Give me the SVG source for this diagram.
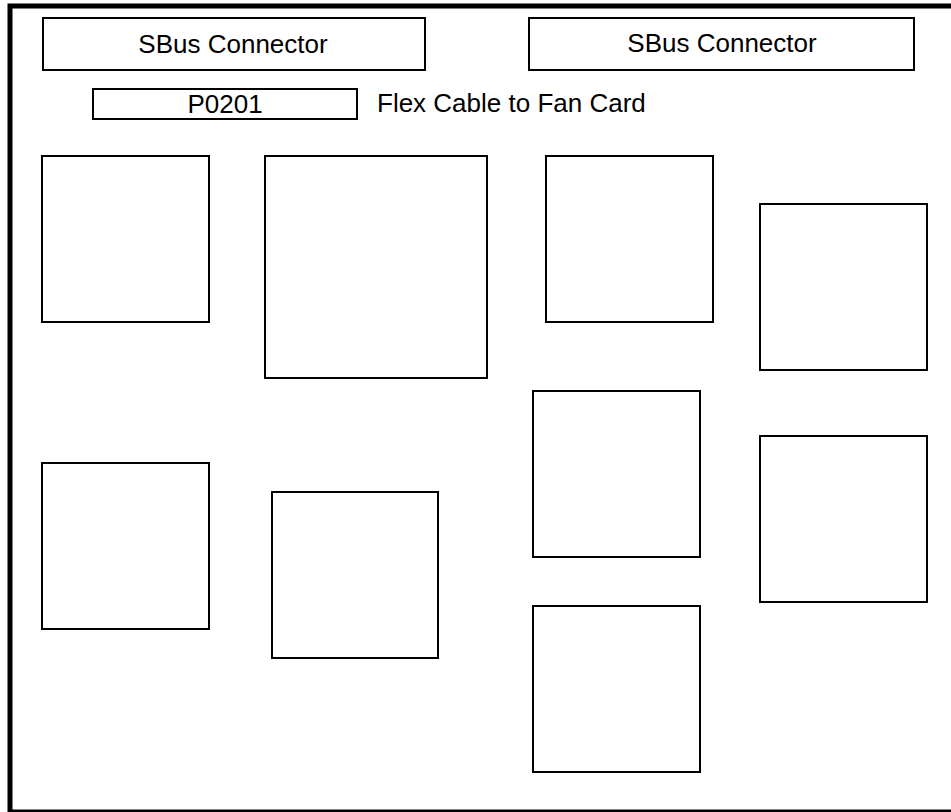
<svg xmlns="http://www.w3.org/2000/svg" width="951" height="812" viewBox="0 0 951 812">
<style>
.b{fill:none;stroke:#000;stroke-width:2}
.t{font-family:"Liberation Sans",Arial,sans-serif;font-size:26px;fill:#000}
</style>
<rect x="0" y="0" width="951" height="812" fill="#fff"/>
<rect id="frame" x="10" y="6" width="960" height="806" fill="none" stroke="#000" stroke-width="5"/>
<g id="sbus1"><rect class="b" x="43" y="18" width="382" height="52"/><text class="t" x="233" y="53" text-anchor="middle">SBus Connector</text></g>
<g id="sbus2"><rect class="b" x="529" y="18" width="385" height="52"/><text class="t" x="722" y="52" text-anchor="middle">SBus Connector</text></g>
<g id="p0201"><rect class="b" x="93" y="89" width="264" height="30"/><text class="t" x="225" y="113" text-anchor="middle">P0201</text></g>
<g id="flexlabel"><text class="t" x="377" y="112">Flex Cable to Fan Card</text></g>
<g id="c1"><rect class="b" x="42" y="156" width="167" height="166"/></g>
<g id="c2"><rect class="b" x="265" y="156" width="222" height="222"/></g>
<g id="c3"><rect class="b" x="546" y="156" width="167" height="166"/></g>
<g id="c4"><rect class="b" x="760" y="204" width="167" height="166"/></g>
<g id="c5"><rect class="b" x="42" y="463" width="167" height="166"/></g>
<g id="c6"><rect class="b" x="272" y="492" width="166" height="166"/></g>
<g id="c7"><rect class="b" x="533" y="391" width="167" height="166"/></g>
<g id="c8"><rect class="b" x="760" y="436" width="167" height="166"/></g>
<g id="c9"><rect class="b" x="533" y="606" width="167" height="166"/></g>
<g id="connectors"></g>
</svg>
